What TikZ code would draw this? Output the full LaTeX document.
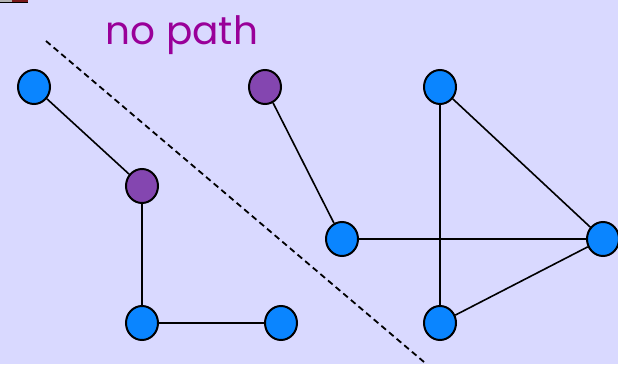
\documentclass[tikz,border=0pt]{standalone}
\usepackage{fontspec}
\newfontfamily\labelfont{Poppins}
\usetikzlibrary{shapes.geometric}
\definecolor{bg}{HTML}{D9D9FF}
\definecolor{nodeblue}{HTML}{0A85FF}
\definecolor{nodepurple}{HTML}{8446B0}
\definecolor{textpurple}{HTML}{990099}
\definecolor{markred}{HTML}{7A1A1A}
\begin{document}
\begin{tikzpicture}[x=1pt,y=1pt,
  vtx/.style={ellipse,draw=black,line width=2pt,minimum width=32pt,minimum height=34pt,inner sep=0pt,fill=nodeblue},
  pvtx/.style={vtx,fill=nodepurple},
  edge/.style={line width=1.6pt,black}]
\fill[bg] (0,0) rectangle (618,364);
\useasboundingbox (0,0) rectangle (618,364);
\fill[gray!60] (0,362) rectangle (12,364);
\fill[markred] (12,362) rectangle (28,364);
\draw[line width=0.6pt] (0,362) -- (28,362);
\coordinate (d1) at (46,323);
\coordinate (d2) at (424,2);
\draw[line width=1.8pt,dash pattern=on 6pt off 4pt] (d1) -- (d2);
\node[text=textpurple,font=\labelfont\fontsize{39}{42}\selectfont] (title) at (182,329) {no path};
\node[vtx] (a) at (34,277) {};
\node[pvtx] (b) at (142,178) {};
\node[vtx] (c) at (142,41) {};
\node[vtx] (d) at (281,41) {};
\node[pvtx] (e) at (265,277) {};
\node[vtx] (f) at (342,125) {};
\node[vtx] (g) at (440,277) {};
\node[vtx] (h) at (603,125) {};
\node[vtx] (i) at (440,41) {};
\draw[edge] (a) -- (b);
\draw[edge] (b) -- (c);
\draw[edge] (c) -- (d);
\draw[edge] (e) -- (f);
\draw[edge] (f) -- (h);
\draw[edge] (g) -- (i);
\draw[edge] (g) -- (h);
\draw[edge] (h) -- (i);
\end{tikzpicture}
\end{document}
